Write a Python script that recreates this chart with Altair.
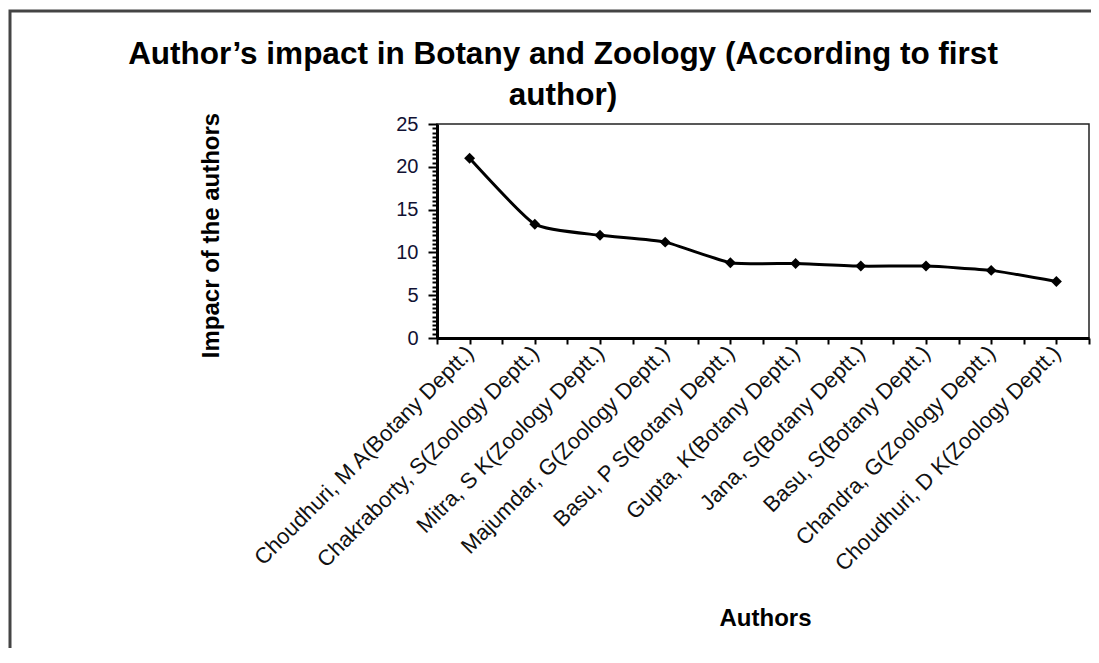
import json
import altair as alt
import pandas as pd

# ---- data ----
authors = [
    "Choudhuri, M A(Botany Deptt.)",
    "Chakraborty, S(Zoology Deptt.)",
    "Mitra, S K(Zoology Deptt.)",
    "Majumdar, G(Zoology Deptt.)",
    "Basu, P S(Botany Deptt.)",
    "Gupta, K(Botany Deptt.)",
    "Jana, S(Botany Deptt.)",
    "Basu, S(Botany Deptt.)",
    "Chandra, G(Zoology Deptt.)",
    "Choudhuri, D K(Zoology Deptt.)",
]
impact = [21.0, 13.3, 12.0, 11.2, 8.8, 8.7, 8.4, 8.4, 7.9, 6.6]

y_tick_values = [i * 0.5 for i in range(0, 51)]          # 0 .. 25, minor every 0.5
x_tick_values = [i * 0.5 - 0.5 for i in range(0, 21)]    # band edges and centres

title_lines = ["Author\u2019s impact in Botany and Zoology (According to first", "author)"]
y_title = "Impacr of the authors"
x_title = "Authors"

df = pd.DataFrame({"idx": list(range(len(authors))), "author": authors, "impact": impact})

FONT = "Liberation Sans"
W, H = 652, 214

x_axis = alt.Axis(
    title=x_title,
    values=x_tick_values,
    tickCount=200,
    labelExpr="datum.value % 1 === 0 ? " + json.dumps(authors) + "[datum.value] : ''",
    labelAngle=315,
    labelAlign="right",
    labelBaseline="middle",
    labelPadding=5,
    labelLimit=600,
    labelFont=FONT,
    labelFontSize=22,
    labelColor="#111111",
    labelOverlap=False,
    labelFlush=False,
    tickSize=6,
    tickWidth=2,
    tickColor="#000000",
    domainColor="#000000",
    domainWidth=3,
    grid=False,
    titleFont=FONT,
    titleFontSize=24,
    titleFontWeight="bold",
    titleColor="#000000",
    titleX=328,
    titleY=287,
    titleAnchor="middle",
    titleAlign="center",
    titleBaseline="alphabetic",
    zindex=1,
)

y_axis = alt.Axis(
    title=y_title,
    values=y_tick_values,
    tickCount=200,
    labelExpr="datum.value % 5 === 0 ? format(datum.value, 'd') : ''",
    labelFont=FONT,
    labelFontSize=20,
    labelColor="#111133",
    labelPadding=10,
    labelLimit=200,
    labelOverlap=False,
    labelFlush=False,
    tickSize={"condition": {"test": "datum.value % 5 === 0", "value": 9}, "value": 5},
    tickWidth=2,
    tickColor="#000000",
    domainColor="#000000",
    domainWidth=3,
    grid=False,
    titleFont=FONT,
    titleFontSize=24,
    titleFontWeight="bold",
    titleColor="#000000",
    titleAngle=270,
    titleX=-214,
    titleY=111,
    titleAlign="center",
    titleBaseline="bottom",
    zindex=1,
)

x_scale = alt.Scale(domain=[-0.5, len(authors) - 0.5], nice=False, zero=False)
y_scale = alt.Scale(domain=[0, 25], nice=False, zero=True)

x_enc = alt.X("idx:Q", scale=x_scale, axis=x_axis)
y_enc = alt.Y("impact:Q", scale=y_scale, axis=y_axis)

frame = alt.Chart(pd.DataFrame({"f": [0]})).mark_rect(
    fill="white", fillOpacity=0, stroke="#444444", strokeWidth=3
).encode(
    x=alt.value(-427), x2=alt.value(800), y=alt.value(-113), y2=alt.value(700)
)

line = alt.Chart(df).mark_line(
    color="#000000", strokeWidth=3, interpolate="cardinal", tension=0.5
).encode(x=x_enc, y=y_enc)

points = alt.Chart(df).mark_point(
    shape="diamond", filled=True, color="#000000", size=120, opacity=1
).encode(x=x_enc, y=y_enc)

chart = alt.layer(frame, line, points).properties(
    width=W,
    height=H,
    autosize=alt.AutoSizeParams(type="none"),
    padding={"left": 429, "top": 116, "right": 2, "bottom": 310},
    title=alt.TitleParams(
        text=title_lines,
        font=FONT,
        fontSize=31.5,
        fontWeight="bold",
        color="#000000",
        anchor="middle",
        dx=-200,
        dy=108,
        lineHeight=41,
        offset=6,
    ),
).configure(
    background="white"
).configure_view(
    stroke="#222222", strokeWidth=1.5
)

chart.save("out.html", embed_options={"renderer": "svg", "actions": False})
